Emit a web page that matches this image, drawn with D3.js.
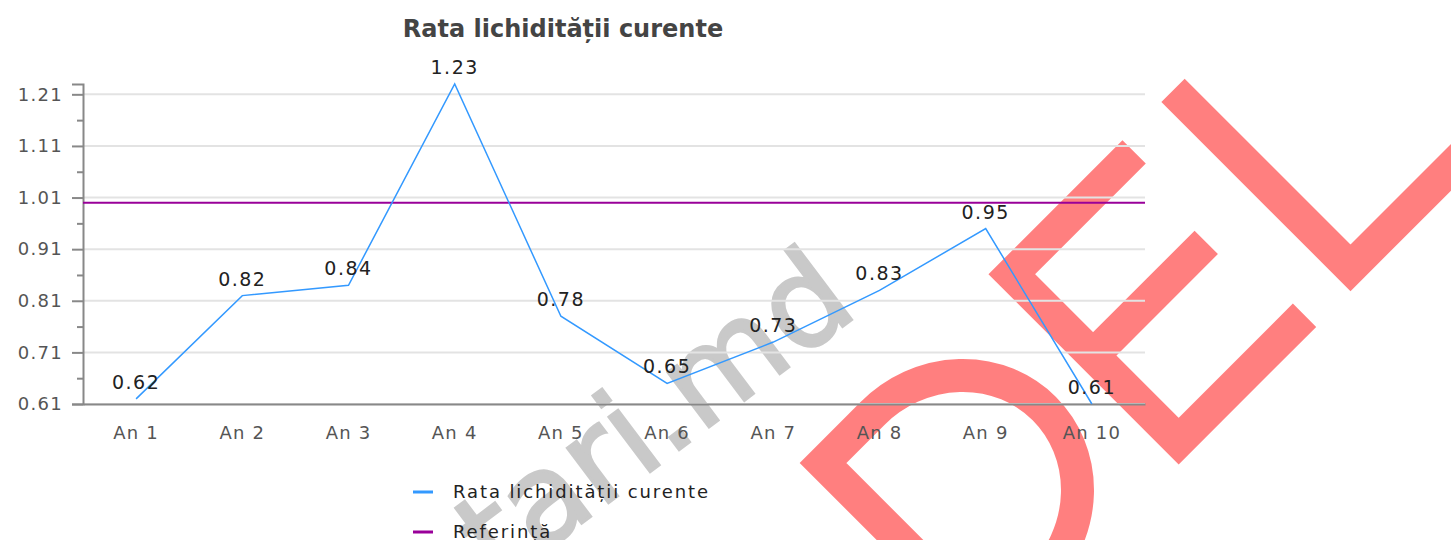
<!DOCTYPE html>
<html>
<head>
<meta charset="utf-8">
<script src="https://cdn.jsdelivr.net/npm/d3@7"></script>
<style>
  body { margin: 0; background: #fff; }
  text { font-family: "DejaVu Sans", sans-serif; }
</style>
</head>
<body>
<div id="canvas"></div>
<script>
"use strict"

let drawingWidth = 1451;
let drawingHeight = 540;

// data
let categories = ["An 1", "An 2", "An 3", "An 4", "An 5", "An 6", "An 7", "An 8", "An 9", "An 10"];
let ratioValues = [0.62, 0.82, 0.84, 1.23, 0.78, 0.65, 0.73, 0.83, 0.95, 0.61];
let referenceValue = 1.0;
let yTickValues = [0.61, 0.71, 0.81, 0.91, 1.01, 1.11, 1.21];
let yMinorTicks = [0.66, 0.76, 0.86, 0.96, 1.06, 1.16];
let seriesNames = ["Rata lichidității curente", "Referință"];
let seriesColors = ["#3399ff", "#990099"];

let drawing = d3.select("#canvas")
    .append("svg")
    .attr("width", drawingWidth)
    .attr("height", drawingHeight);

/* watermarks behind the chart */
let wmGray = drawing.append("text")
    .attr("transform", "translate(680,449) rotate(-37)")
    .attr("text-anchor", "middle")
    .attr("font-size", 125)
    .attr("fill", "#c9c9c9")
    .attr("stroke", "#c9c9c9")
    .attr("stroke-width", 3)
    .text("tari.md");

let wmRed = drawing.append("g")
    .attr("transform", "translate(823,463) rotate(-45)")
    .attr("fill", "none")
    .attr("stroke", "rgba(255,0,0,0.5)")
    .attr("stroke-width", 33)
    .attr("stroke-linejoin", "miter");
wmRed.append("path").attr("d", "M0,236 L0,0 L70,0 A125,118 0 0 1 70,236 Z"); // D
wmRed.append("path").attr("d", "M440,0 L267,0 L267,236 L445,236 M267,115 L427,115"); // E
wmRed.append("path").attr("d", "M511,-16 L511,235 L760,235"); // L

/* scales */
let x = d3.scaleBand()
    .domain(categories)
    .range([83, 1145]);

let y = d3.scaleLinear()
    .domain([0.61, 1.23])
    .range([404, 84]);

let cx = d => x(d) + x.bandwidth() / 2;

/* grid */
drawing.append("g")
    .selectAll("line")
    .data(yTickValues)
    .join("line")
    .attr("x1", 83)
    .attr("x2", 1145)
    .attr("y1", d => y(d))
    .attr("y2", d => y(d))
    .attr("stroke", "#e3e3e3")
    .attr("stroke-width", 2);

/* y axis */
let yAxis = drawing.append("g")
    .attr("transform", "translate(83,0)")
    .call(d3.axisLeft(y).tickValues(yTickValues).tickSize(11).tickPadding(9).tickFormat(d3.format(".2f")));
yAxis.select(".domain").attr("stroke", "#888").attr("stroke-width", 2);
yAxis.selectAll(".tick line").attr("stroke", "#888").attr("stroke-width", 2);
yAxis.selectAll(".tick text")
    .attr("font-size", 18)
    .attr("letter-spacing", 1.3)
    .attr("font-family", "DejaVu Sans")
    .attr("fill", "#555");

let yMinor = drawing.append("g")
    .attr("transform", "translate(83,0)")
    .call(d3.axisLeft(y).tickValues(yMinorTicks).tickSize(6).tickFormat(""));
yMinor.select(".domain").remove();
yMinor.selectAll(".tick line").attr("stroke", "#888").attr("stroke-width", 2);

/* x axis */
let xAxis = drawing.append("g")
    .attr("transform", "translate(0,404)")
    .call(d3.axisBottom(x).tickSize(0).tickPadding(22));
xAxis.select(".domain").attr("stroke", "#888").attr("stroke-width", 2);
xAxis.selectAll(".tick text")
    .attr("font-size", 18)
    .attr("letter-spacing", 1.2)
    .attr("font-family", "DejaVu Sans")
    .attr("fill", "#555");

/* reference line */
drawing.append("line")
    .attr("x1", 83)
    .attr("x2", 1145)
    .attr("y1", y(referenceValue))
    .attr("y2", y(referenceValue))
    .attr("stroke", seriesColors[1])
    .attr("stroke-width", 2);

/* ratio line */
let line = d3.line()
    .x((d, i) => cx(categories[i]))
    .y(d => y(d));

drawing.append("path")
    .datum(ratioValues)
    .attr("d", line)
    .attr("fill", "none")
    .attr("stroke", seriesColors[0])
    .attr("stroke-width", 1.5);

/* value labels */
drawing.append("g")
    .selectAll("text")
    .data(ratioValues)
    .join("text")
    .attr("x", (d, i) => cx(categories[i]))
    .attr("y", d => y(d) - 10)
    .attr("text-anchor", "middle")
    .attr("font-size", 19)
    .attr("letter-spacing", 1.5)
    .attr("fill", "#222")
    .text(d => d.toFixed(2));

/* title */
drawing.append("text")
    .attr("x", 563)
    .attr("y", 37)
    .attr("text-anchor", "middle")
    .attr("font-size", 24)
    .attr("font-weight", "bold")
    .attr("fill", "#444")
    .text("Rata lichidității curente");

/* legend */
let legend = drawing.append("g")
    .selectAll("g")
    .data(seriesNames)
    .join("g")
    .attr("transform", (d, i) => "translate(413," + (492 + i * 40) + ")");
legend.append("line")
    .attr("x1", 0)
    .attr("x2", 20)
    .attr("stroke", (d, i) => seriesColors[i])
    .attr("stroke-width", 3);
legend.append("text")
    .attr("x", 40)
    .attr("dy", "0.35em")
    .attr("font-size", 18)
    .attr("letter-spacing", 1.9)
    .attr("fill", "#222")
    .text(d => d);
</script>
</body>
</html>
